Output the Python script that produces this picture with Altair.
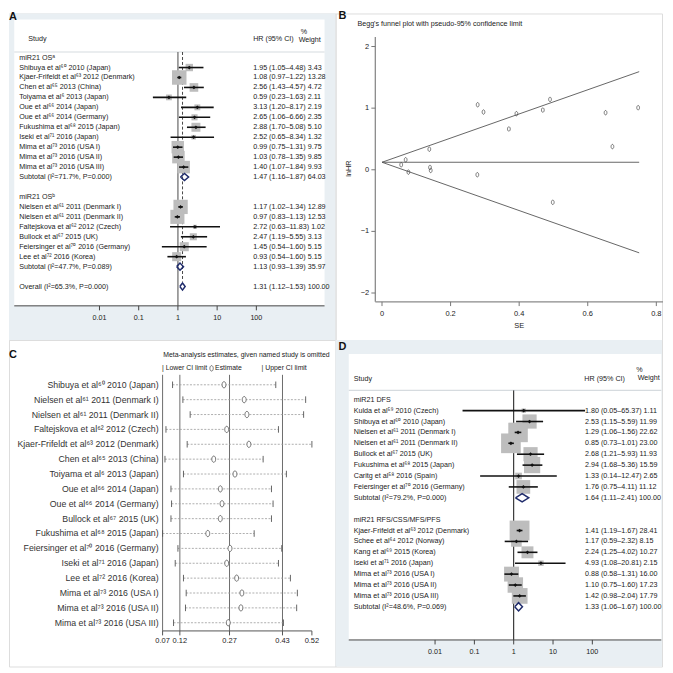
import altair as alt
import pandas as pd

FONT = "Liberation Sans"
BG = "#e9eff3"
INK = "#222222"
BOXC = "#bdbdbd"
NAVY = "#1f2b6b"
PW = 328
PH = 328

# ---------------- Panel A data ----------------
A1_TITLE = "miR21 OSᵃ"
A1_STUDY = ["Shibuya et al⁶⁰ 2010 (Japan)", "Kjaer-Frifeldt et al⁶³ 2012 (Denmark)",
            "Chen et al⁶⁵ 2013 (China)", "Toiyama et al⁶ 2013 (Japan)",
            "Oue et al⁶⁶ 2014 (Japan)", "Oue et al⁶⁶ 2014 (Germany)",
            "Fukushima et al⁶⁸ 2015 (Japan)", "Iseki et al⁷¹ 2016 (Japan)",
            "Mima et al⁷³ 2016 (USA I)", "Mima et al⁷³ 2016 (USA II)", "Mima et al⁷³ 2016 (USA III)"]
A1_HR = [1.95, 1.08, 2.56, 0.59, 3.13, 2.65, 2.88, 2.52, 0.99, 1.03, 1.40]
A1_LO = [1.05, 0.97, 1.43, 0.23, 1.20, 1.06, 1.70, 0.65, 0.75, 0.78, 1.07]
A1_HI = [4.48, 1.22, 4.57, 1.63, 8.17, 6.66, 5.08, 8.34, 1.31, 1.35, 1.84]
A1_WT = [3.43, 13.28, 4.72, 2.11, 2.19, 2.35, 5.10, 1.32, 9.75, 9.85, 9.93]
A1_CI = ["1.95 (1.05–4.48) 3.43", "1.08 (0.97–1.22) 13.28", "2.56 (1.43–4.57) 4.72",
         "0.59 (0.23–1.63) 2.11", "3.13 (1.20–8.17) 2.19", "2.65 (1.06–6.66) 2.35",
         "2.88 (1.70–5.08) 5.10", "2.52 (0.65–8.34) 1.32", "0.99 (0.75–1.31) 9.75",
         "1.03 (0.78–1.35) 9.85", "1.40 (1.07–1.84) 9.93"]

A2_TITLE = "miR21 OSᵇ"
A2_STUDY = ["Nielsen et al⁶¹ 2011 (Denmark I)", "Nielsen et al⁶¹ 2011 (Denmark II)",
            "Faltejskova et al⁶² 2012 (Czech)", "Bullock et al⁶⁷ 2015 (UK)",
            "Feiersinger et al⁷⁰ 2016 (Germany)", "Lee et al⁷² 2016 (Korea)"]
A2_HR = [1.17, 0.97, 2.72, 2.47, 1.45, 0.93]
A2_LO = [1.02, 0.83, 0.63, 1.19, 0.39, 0.54]
A2_HI = [1.34, 1.13, 11.83, 5.55, 5.40, 1.60]
A2_WT = [12.89, 12.53, 1.02, 3.13, 5.15, 5.15]
A2_CI = ["1.17 (1.02–1.34) 12.89", "0.97 (0.83–1.13) 12.53", "2.72 (0.63–11.83) 1.02",
         "2.47 (1.19–5.55) 3.13", "1.45 (0.54–1.60) 5.15", "0.93 (0.54–1.60) 5.15"]

A_SUB_LABEL = ["Subtotal (I²=71.7%, P=0.000)", "Subtotal (I²=47.7%, P=0.089)"]
A_SUB_CI = ["1.47 (1.16–1.87) 64.03", "1.13 (0.93–1.39) 35.97"]
A_SUB_HR = [1.47, 1.13]
A_SUB_LO = [1.16, 0.93]
A_SUB_HI = [1.87, 1.39]
A_ALL_LABEL = "Overall (I²=65.3%, P=0.000)"
A_ALL_CI = "1.31 (1.12–1.53) 100.00"
A_ALL = [1.31, 1.12, 1.53]

# ---------------- Panel D data ----------------
D1_TITLE = "miR21 DFS"
D1_STUDY = ["Kulda et al⁵⁹ 2010 (Czech)", "Shibuya et al⁶⁰ 2010 (Japan)",
            "Nielsen et al⁶¹ 2011 (Denmark I)", "Nielsen et al⁶¹ 2011 (Denmark II)",
            "Bullock et al⁶⁷ 2015 (UK)", "Fukushima et al⁶⁸ 2015 (Japan)",
            "Caritg et al⁵⁸ 2016 (Spain)", "Feiersinger et al⁷⁰ 2016 (Germany)"]
D1_HR = [1.80, 2.53, 1.29, 0.85, 2.68, 2.94, 1.33, 1.76]
D1_LO = [0.05, 1.15, 1.06, 0.73, 1.21, 1.68, 0.14, 0.75]
D1_HI = [65.37, 5.59, 1.56, 1.01, 5.93, 5.36, 12.47, 4.11]
D1_WT = [1.11, 11.99, 22.62, 23.00, 11.93, 15.59, 2.65, 11.12]
D1_CI = ["1.80 (0.05–65.37) 1.11", "2.53 (1.15–5.59) 11.99", "1.29 (1.06–1.56) 22.62",
         "0.85 (0.73–1.01) 23.00", "2.68 (1.21–5.93) 11.93", "2.94 (1.68–5.36) 15.59",
         "1.33 (0.14–12.47) 2.65", "1.76 (0.75–4.11) 11.12"]

D2_TITLE = "miR21 RFS/CSS/MFS/PFS"
D2_STUDY = ["Kjaer-Frifeldt et al⁶³ 2012 (Denmark)", "Schee et al⁶⁴ 2012 (Norway)",
            "Kang et al⁶⁹ 2015 (Korea)", "Iseki et al⁷¹ 2016 (Japan)",
            "Mima et al⁷³ 2016 (USA I)", "Mima et al⁷³ 2016 (USA II)", "Mima et al⁷³ 2016 (USA III)"]
D2_HR = [1.41, 1.17, 2.24, 4.93, 0.88, 1.10, 1.42]
D2_LO = [1.19, 0.59, 1.25, 1.08, 0.58, 0.75, 0.98]
D2_HI = [1.67, 2.32, 4.02, 20.81, 1.31, 1.60, 2.04]
D2_WT = [28.41, 8.15, 10.27, 2.15, 16.00, 17.23, 17.79]
D2_CI = ["1.41 (1.19–1.67) 28.41", "1.17 (0.59–2.32) 8.15", "2.24 (1.25–4.02) 10.27",
         "4.93 (1.08–20.81) 2.15", "0.88 (0.58–1.31) 16.00", "1.10 (0.75–1.60) 17.23",
         "1.42 (0.98–2.04) 17.79"]

D_SUB_LABEL = ["Subtotal (I²=79.2%, P=0.000)", "Subtotal (I²=48.6%, P=0.069)"]
D_SUB_CI = ["1.64 (1.11–2.41) 100.00", "1.33 (1.06–1.67) 100.00"]
D_SUB_HR = [1.64, 1.33]
D_SUB_LO = [1.11, 1.06]
D_SUB_HI = [2.41, 1.67]

FOREST_TICKS = [0.01, 0.1, 1, 10, 100]
FOREST_TICK_LABELS = ["0.01", "0.1", "1", "10", "100"]

# ---------------- Panel B data ----------------
B_TITLE = "Begg's funnel plot with pseudo-95% confidence limit"
B_SE = [0.056, 0.069, 0.077, 0.138, 0.140, 0.142, 0.278, 0.279, 0.296, 0.370,
        0.392, 0.469, 0.490, 0.498, 0.652, 0.672, 0.747]
B_LNHR = [0.081, 0.162, -0.038, 0.334, 0.038, -0.011, -0.081, 1.055, 0.937, 0.662,
          0.910, 0.969, 1.142, -0.528, 0.926, 0.376, 1.007]
B_FUNNEL_SE = [0.0, 0.75]
B_FUNNEL_MID = [0.122, 0.122]
B_FUNNEL_UP = [0.122, 1.592]
B_FUNNEL_LO = [0.122, -1.348]
B_XTICKS = [0, 0.2, 0.4, 0.6, 0.8]
B_XLABELS = ["0", "0.2", "0.4", "0.6", "0.8"]
B_YTICKS = [-2, -1, 0, 1, 2]
B_YLABELS = ["−2", "−1", "0", "1", "2"]

# ---------------- Panel C data ----------------
C_TITLE = "Meta-analysis estimates, given named study is omitted"
C_STUDY = ["Shibuya et al⁶⁰ 2010 (Japan)", "Nielsen et al⁶¹ 2011 (Denmark I)",
           "Nielsen et al⁶¹ 2011 (Denmark II)", "Faltejskova et al⁶² 2012 (Czech)",
           "Kjaer-Frifeldt et al⁶³ 2012 (Denmark)", "Chen et al⁶⁵ 2013 (China)",
           "Toiyama et al⁶ 2013 (Japan)", "Oue et al⁶⁶ 2014 (Japan)", "Oue et al⁶⁶ 2014 (Germany)",
           "Bullock et al⁶⁷ 2015 (UK)", "Fukushima et al⁶⁸ 2015 (Japan)",
           "Feiersinger et al⁷⁰ 2016 (Germany)", "Iseki et al⁷¹ 2016 (Japan)",
           "Lee et al⁷² 2016 (Korea)", "Mima et al⁷³ 2016 (USA I)", "Mima et al⁷³ 2016 (USA II)",
           "Mima et al⁷³ 2016 (USA III)"]
C_LO = [0.0979, 0.1291, 0.1511, 0.0780, 0.1421, 0.0750, 0.1309, 0.0931, 0.0949, 0.0931,
        0.0678, 0.1141, 0.1060, 0.1309, 0.1391, 0.1370, 0.1009]
C_EST = [0.2533, 0.3143, 0.3225, 0.2614, 0.3285, 0.2223, 0.2864, 0.2422, 0.2473, 0.2422,
         0.2043, 0.2714, 0.2614, 0.2915, 0.3074, 0.3044, 0.2662]
C_HI = [0.4097, 0.4999, 0.4938, 0.4178, 0.5188, 0.3715, 0.4418, 0.3967, 0.4015, 0.3967,
        0.3444, 0.4277, 0.4178, 0.4539, 0.4749, 0.4728, 0.4328]
C_REF = [0.12, 0.27, 0.43]
C_TICKS = [0.0678, 0.12, 0.27, 0.43, 0.5188]
C_TICK_LABELS = ["0.07", "0.12", "0.27", "0.43", "0.52"]

# ---------------- helpers ----------------
ELLIPSE = "M0,-1A0.62,1,0,1,1,0,1A0.62,1,0,1,1,0,-1Z"


def S(dom, log=False, rev=False):
    kw = {"domain": list(dom), "nice": False, "zero": False}
    if log:
        kw["type"] = "log"
    if rev:
        kw["reverse"] = True
    return alt.Scale(**kw)


def X(f, s):
    return alt.X(f, type="quantitative", scale=s, axis=None)


def Y(f, s):
    return alt.Y(f, type="quantitative", scale=s, axis=None)


def T(**kw):
    base = dict(font=FONT, fontSize=7.2, color=INK, baseline="middle", align="left")
    base.update(kw)
    return base


def label_at(text, px, py, **kw):
    return (alt.Chart(pd.DataFrame({"t": [text]})).mark_text(**T(**kw))
            .encode(x=alt.value(px), y=alt.value(py), text="t:N"))


def forest(groups, subs, overall, L):
    xs = S(L["xdom"], log=True)
    ys = S(L["ydom"], rev=True)
    lab, st, dm = [], [], []

    def add_sub(r, lbl, ci, hr, lo, hi):
        lab.append(dict(row=r, label=lbl, txt=ci))
        h = L["dia_h"]
        for k, (xx, yy) in enumerate([(lo, r), (hr, r - h), (hi, r), (hr, r + h), (lo, r)]):
            dm.append(dict(id=f"d{r}", k=k, x=xx, y=yy))

    r = 0
    for gi, g in enumerate(groups):
        lab.append(dict(row=r, label=g["title"], txt=""))
        r += 1
        for i in range(len(g["study"])):
            lab.append(dict(row=r, label=g["study"][i], txt=g["ci"][i]))
            st.append(dict(row=r, hr=g["hr"][i], lo=g["lo"][i], hi=g["hi"][i],
                           sz=g["wt"][i] * L["boxsc"][gi]))
            r += 1
        s = subs[gi]
        add_sub(r, s[0], s[1], s[2], s[3], s[4])
        r += 2
    if overall is not None:
        add_sub(r, *overall)

    lab = pd.DataFrame(lab)
    st = pd.DataFrame(st)
    dm = pd.DataFrame(dm)
    x0, x1 = L["xdom"]
    y0, y1 = L["ydom"]
    bx0, bx1, by0, by1 = L["box"]

    layers = []
    layers.append(alt.Chart(pd.DataFrame({"a": [x0], "b": [x1], "c": [y0], "d": [y1]}))
                  .mark_rect(color=BG).encode(x=X("a", xs), x2="b", y=Y("c", ys), y2="d"))
    layers.append(alt.Chart(pd.DataFrame({"a": [bx0], "b": [bx1], "c": [by0], "d": [by1]}))
                  .mark_rect(color="white").encode(x=X("a", xs), x2="b", y=Y("c", ys), y2="d"))
    layers.append(alt.Chart(pd.DataFrame({"a": [bx0], "b": [bx1], "c": [L["hdr_line"]]}))
                  .mark_rule(color="#d6dbdf", strokeWidth=1.2).encode(x=X("a", xs), x2="b", y=Y("c", ys)))
    layers.append(alt.Chart(pd.DataFrame({"a": [1.0], "c": [L["hdr_line"]], "d": [L["axis_row"]]}))
                  .mark_rule(color=L["null_col"], strokeWidth=L["null_w"])
                  .encode(x=X("a", xs), y=Y("c", ys), y2="d"))
    if overall is not None:
        layers.append(alt.Chart(pd.DataFrame({"a": [overall[2]], "c": [L["hdr_line"]], "d": [L["ov_end"]]}))
                      .mark_rule(color="#333333", strokeWidth=0.9, strokeDash=[3, 2])
                      .encode(x=X("a", xs), y=Y("c", ys), y2="d"))
    layers.append(alt.Chart(st).mark_square(color=BOXC, opacity=1)
                  .encode(x=X("hr", xs), y=Y("row", ys),
                          size=alt.Size("sz:Q", scale=None, legend=None)))
    layers.append(alt.Chart(st).mark_rule(color="#111111", strokeWidth=1.6)
                  .encode(x=X("lo", xs), x2="hi", y=Y("row", ys)))
    layers.append(alt.Chart(st).mark_point(shape="diamond", filled=True, color="#111111", size=14, opacity=1)
                  .encode(x=X("hr", xs), y=Y("row", ys)))
    layers.append(alt.Chart(dm).mark_line(color=NAVY, strokeWidth=1.5)
                  .encode(x=X("x", xs), y=Y("y", ys), detail="id:N", order="k:Q"))
    layers.append(alt.Chart(lab).mark_text(**T())
                  .encode(x=alt.value(L["lab_x"]), y=Y("row", ys), text="label:N"))
    layers.append(alt.Chart(lab).mark_text(**T())
                  .encode(x=alt.value(L["ci_x"]), y=Y("row", ys), text="txt:N"))
    hdr_rows = [L["hdr_row"], L["hdr_row"], L["pct_row"], L["wgt_row"]]
    hdr_txt = ["Study", "HR (95% CI)", "%", "Weight"]
    hdr_px = [L["study_x"], L["hr_x"], L["pct_x"], L["wgt_x"]]
    for rr, tt, pp in zip(hdr_rows, hdr_txt, hdr_px):
        layers.append(alt.Chart(pd.DataFrame({"row": [rr], "t": [tt]})).mark_text(**T())
                      .encode(x=alt.value(pp), y=Y("row", ys), text="t:N"))
    # axis
    layers.append(alt.Chart(pd.DataFrame({"a": [bx0], "b": [bx1], "c": [L["axis_row"]]}))
                  .mark_rule(color="#444444", strokeWidth=1).encode(x=X("a", xs), x2="b", y=Y("c", ys)))
    n = len(FOREST_TICKS)
    tk = pd.DataFrame({"v": FOREST_TICKS, "t": FOREST_TICK_LABELS,
                       "c": [L["axis_row"]] * n, "d": [L["axis_row"] + L["tick_len"]] * n,
                       "e": [L["tick_lab_row"]] * n})
    layers.append(alt.Chart(tk).mark_rule(color="#444444", strokeWidth=1)
                  .encode(x=X("v", xs), y=Y("c", ys), y2="d"))
    layers.append(alt.Chart(tk).mark_text(**T(align="center"))
                  .encode(x=X("v", xs), y=Y("e", ys), text="t:N"))
    layers.append(label_at(L["letter"], L["letter_xy"][0], L["letter_xy"][1],
                           fontSize=11, fontWeight="bold", color="#111111"))
    return alt.layer(*layers).properties(width=PW, height=PH)


# ---------------- Panel A ----------------
LA = dict(xdom=[10 ** -4.307, 10 ** 4.018], ydom=[-4.43, 28.37],
          box=[10 ** -4.173, 10 ** 3.739, -3.83, 24.94], hdr_line=-0.56,
          axis_row=24.94, tick_len=0.45, tick_lab_row=26.2,
          lab_x=10.3, study_x=19.3, ci_x=245.3, hr_x=245.3, pct_x=293, wgt_x=291,
          hdr_row=-1.9, pct_row=-2.56, wgt_row=-1.73, boxsc=[16, 16], dia_h=0.36,
          null_col="#7d7d7d", null_w=1.4, ov_end=22.5, letter="A", letter_xy=(0, 4))
panel_a = forest(
    [dict(title=A1_TITLE, study=A1_STUDY, hr=A1_HR, lo=A1_LO, hi=A1_HI, wt=A1_WT, ci=A1_CI),
     dict(title=A2_TITLE, study=A2_STUDY, hr=A2_HR, lo=A2_LO, hi=A2_HI, wt=A2_WT, ci=A2_CI)],
    [(A_SUB_LABEL[i], A_SUB_CI[i], A_SUB_HR[i], A_SUB_LO[i], A_SUB_HI[i]) for i in range(2)],
    (A_ALL_LABEL, A_ALL_CI, A_ALL[0], A_ALL[1], A_ALL[2]), LA)

# ---------------- Panel D ----------------
LD = dict(xdom=[10 ** -4.532, 10 ** 3.772], ydom=[-5.479, 24.475],
          box=[10 ** -4.195, 10 ** 3.754, -4.2, 22.04], hdr_line=-0.85,
          axis_row=22.04, tick_len=0.41, tick_lab_row=23.13,
          lab_x=18.3, study_x=18.3, ci_x=250.7, hr_x=250, pct_x=302, wgt_x=303.5,
          hdr_row=-1.9, pct_row=-2.7, wgt_row=-1.95, boxsc=[17, 14], dia_h=0.38,
          null_col="#111111", null_w=1.0, ov_end=0, letter="D", letter_xy=(3, 7))
panel_d = forest(
    [dict(title=D1_TITLE, study=D1_STUDY, hr=D1_HR, lo=D1_LO, hi=D1_HI, wt=D1_WT, ci=D1_CI),
     dict(title=D2_TITLE, study=D2_STUDY, hr=D2_HR, lo=D2_LO, hi=D2_HI, wt=D2_WT, ci=D2_CI)],
    [(D_SUB_LABEL[i], D_SUB_CI[i], D_SUB_HR[i], D_SUB_LO[i], D_SUB_HI[i]) for i in range(2)],
    None, LD)

# ---------------- Panel B ----------------
bxs = S([-0.1356, 0.8166])
bys = S([-2.7625, 2.5363])
B_AX_X0, B_AX_X1 = -0.0195, 0.8195
B_AX_Y0, B_AX_Y1 = -2.1438, 2.1535
b_pts = pd.DataFrame({"se": B_SE, "v": B_LNHR})
b_fun = pd.DataFrame({"se": B_FUNNEL_SE * 3,
                      "v": B_FUNNEL_UP + B_FUNNEL_LO + B_FUNNEL_MID,
                      "k": ["u", "u", "l", "l", "m", "m"]})
b_yt = pd.DataFrame({"v": B_YTICKS, "t": B_YLABELS, "a": [-0.031] * 5, "b": [B_AX_X0] * 5,
                     "lx": [-0.0375] * 5})
b_xt = pd.DataFrame({"v": B_XTICKS, "t": B_XLABELS, "a": [B_AX_Y0] * 5, "b": [-2.212] * 5,
                     "ly": [-2.345] * 5})
panel_b = alt.layer(
    alt.Chart(pd.DataFrame({"a": [B_AX_X0], "c": [B_AX_Y0], "d": [B_AX_Y1]}))
    .mark_rule(color="#8a8a8a", strokeWidth=1.3).encode(x=X("a", bxs), y=Y("c", bys), y2="d"),
    alt.Chart(pd.DataFrame({"a": [B_AX_X0], "b": [B_AX_X1], "c": [B_AX_Y0]}))
    .mark_rule(color="#8a8a8a", strokeWidth=1.3).encode(x=X("a", bxs), x2="b", y=Y("c", bys)),
    alt.Chart(b_yt).mark_rule(color="#777777", strokeWidth=1).encode(x=X("a", bxs), x2="b", y=Y("v", bys)),
    alt.Chart(b_yt).mark_text(**T(align="right", fontSize=7.5)).encode(x=X("lx", bxs), y=Y("v", bys), text="t:N"),
    alt.Chart(b_xt).mark_rule(color="#777777", strokeWidth=1).encode(x=X("v", bxs), y=Y("a", bys), y2="b"),
    alt.Chart(b_xt).mark_text(**T(align="center", fontSize=7.5)).encode(x=X("v", bxs), y=Y("ly", bys), text="t:N"),
    alt.Chart(b_fun).mark_line(color="#555555", strokeWidth=0.9)
    .encode(x=X("se", bxs), y=Y("v", bys), detail="k:N"),
    alt.Chart(b_pts).mark_point(shape=ELLIPSE, filled=False, size=20, color="#444444",
                                strokeWidth=0.7, opacity=1)
    .encode(x=X("se", bxs), y=Y("v", bys)),
    alt.Chart(pd.DataFrame({"t": ["SE"], "x": [0.40], "y": [-2.532]}))
    .mark_text(**T(align="center", fontSize=7.5)).encode(x=X("x", bxs), y=Y("y", bys), text="t:N"),
    alt.Chart(pd.DataFrame({"t": ["lnHR"], "x": [-0.097], "y": [0.02]}))
    .mark_text(**T(align="center", fontSize=7.5, angle=270)).encode(x=X("x", bxs), y=Y("y", bys), text="t:N"),
    label_at(B_TITLE, 22, 11),
    label_at("B", 3, 3, fontSize=11, fontWeight="bold", color="#111111"),
).properties(width=PW, height=PH)

# ---------------- Panel C ----------------
cxs = S([-0.3961, 0.5901])
cys = S([-3.012, 18.942], rev=True)
C_TOP, C_AXIS = -0.67, 16.55
c_df = pd.DataFrame({"row": list(range(len(C_STUDY))), "label": C_STUDY,
                     "lo": C_LO, "est": C_EST, "hi": C_HI})
c_ref = pd.DataFrame({"v": C_REF, "a": [C_TOP] * 3, "b": [C_AXIS] * 3})
c_tk = pd.DataFrame({"v": C_TICKS, "t": C_TICK_LABELS, "a": [C_AXIS] * 5, "b": [C_AXIS + 0.3] * 5,
                     "ly": [17.22] * 5})
panel_c = alt.layer(
    alt.Chart(c_ref).mark_rule(color="#6d6d6d", strokeWidth=1).encode(x=X("v", cxs), y=Y("a", cys), y2="b"),
    alt.Chart(pd.DataFrame({"v": [min(C_LO)], "a": [C_TOP], "b": [C_AXIS]}))
    .mark_rule(color="#6d6d6d", strokeWidth=1).encode(x=X("v", cxs), y=Y("a", cys), y2="b"),
    alt.Chart(pd.DataFrame({"a": [min(C_LO)], "b": [max(C_HI)], "c": [C_AXIS]}))
    .mark_rule(color="#555555", strokeWidth=1).encode(x=X("a", cxs), x2="b", y=Y("c", cys)),
    alt.Chart(c_tk).mark_rule(color="#555555", strokeWidth=1).encode(x=X("v", cxs), y=Y("a", cys), y2="b"),
    alt.Chart(c_tk).mark_text(**T(align="center", fontSize=7.5)).encode(x=X("v", cxs), y=Y("ly", cys), text="t:N"),
    alt.Chart(c_df).mark_rule(color="#9a9a9a", strokeWidth=0.8, strokeDash=[2, 1.5])
    .encode(x=X("lo", cxs), x2="hi", y=Y("row", cys)),
    alt.Chart(c_df).transform_calculate(a="datum.row - 0.22", b="datum.row + 0.22")
    .mark_rule(color="#555555", strokeWidth=0.9).encode(x=X("lo", cxs), y=Y("a", cys), y2="b"),
    alt.Chart(c_df).transform_calculate(a="datum.row - 0.22", b="datum.row + 0.22")
    .mark_rule(color="#555555", strokeWidth=0.9).encode(x=X("hi", cxs), y=Y("a", cys), y2="b"),
    alt.Chart(c_df).mark_point(shape=ELLIPSE, filled=True, fill="white", stroke="#555555",
                               strokeWidth=0.8, size=40, opacity=1)
    .encode(x=X("est", cxs), y=Y("row", cys)),
    alt.Chart(c_df).mark_text(**T(align="right", fontSize=8.8, color="#333333"))
    .encode(x=alt.value(150.3), y=Y("row", cys), text="label:N"),
    label_at(C_TITLE, 155, 15, fontSize=6.9),
    label_at("| Lower CI limit", 153.7, 28.5, fontSize=6.9),
    label_at("Estimate", 207, 28.5, fontSize=6.9),
    label_at("| Upper CI limit", 253.7, 28.5, fontSize=6.9),
    alt.Chart(pd.DataFrame({"t": ["o"]}))
    .mark_point(shape=ELLIPSE, filled=False, color="#555555", strokeWidth=0.8, size=30, opacity=1)
    .encode(x=alt.value(203.5), y=alt.value(28.5)),
    label_at("C", 0, 15, fontSize=11, fontWeight="bold", color="#111111"),
).properties(width=PW, height=PH)

chart = (alt.concat(panel_a, panel_b, panel_c, panel_d, columns=2, spacing=0, bounds="flush")
         .properties(padding=0)
         .configure_view(strokeWidth=0)
         .configure(background="white"))

chart.save("out.html", embed_options={"renderer": "svg", "actions": False})
